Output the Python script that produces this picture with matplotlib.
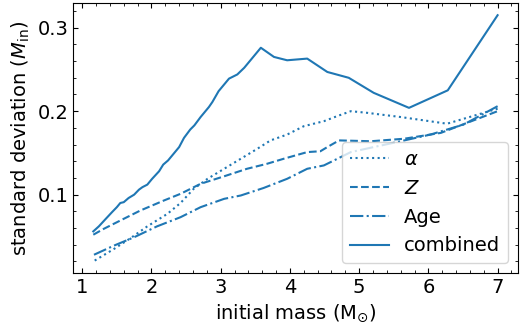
"""Standard deviation of inferred mass vs initial mass."""

import matplotlib
matplotlib.use("Agg")
import matplotlib.pyplot as plt
from matplotlib.ticker import MultipleLocator

# values
alpha_mass = [1.18, 1.26, 1.46, 1.70, 1.94, 2.23, 2.42, 2.61, 2.81, 3.05, 3.29,
              3.53, 3.72, 3.96, 4.20, 4.49, 4.68, 4.88, 5.12, 5.31, 5.60, 6.27, 7.00]
alpha_std = [0.021, 0.025, 0.035, 0.048, 0.062, 0.077, 0.090, 0.107, 0.119, 0.131, 0.143,
             0.155, 0.165, 0.172, 0.182, 0.188, 0.194, 0.200, 0.198, 0.196, 0.193, 0.185, 0.203]

z_mass = [1.16, 1.31, 1.55, 1.84, 2.18, 2.42, 2.71, 3.05, 3.38, 3.67, 3.91,
          4.25, 4.44, 4.54, 4.71, 5.17, 5.65, 6.18, 7.00]
z_std = [0.052, 0.059, 0.069, 0.081, 0.093, 0.101, 0.113, 0.122, 0.131, 0.137, 0.143,
         0.151, 0.152, 0.157, 0.165, 0.164, 0.167, 0.174, 0.200]

age_mass = [1.17, 1.46, 1.75, 2.08, 2.42, 2.71, 3.05, 3.29, 3.62, 3.96, 4.25,
            4.49, 4.71, 4.88, 5.21, 5.60, 6.03, 6.51, 7.00]
age_std = [0.028, 0.039, 0.049, 0.062, 0.073, 0.085, 0.095, 0.099, 0.108, 0.119, 0.131,
           0.135, 0.144, 0.151, 0.157, 0.164, 0.172, 0.184, 0.206]

combined_mass = [1.16, 1.24, 1.34, 1.43, 1.50, 1.55, 1.60, 1.67, 1.75, 1.82, 1.87,
                 1.94, 2.01, 2.11, 2.17, 2.24, 2.30, 2.40, 2.47, 2.56, 2.62, 2.71,
                 2.83, 2.88, 2.97, 3.05, 3.12, 3.24, 3.34, 3.58, 3.77, 3.96, 4.25,
                 4.54, 4.85, 5.21, 5.72, 6.28, 7.00]
combined_std = [0.056, 0.062, 0.071, 0.079, 0.085, 0.090, 0.091, 0.096, 0.100, 0.106, 0.109,
                0.112, 0.119, 0.128, 0.136, 0.141, 0.147, 0.157, 0.168, 0.178, 0.183, 0.193,
                0.205, 0.211, 0.224, 0.232, 0.239, 0.244, 0.252, 0.276, 0.265, 0.261, 0.263,
                0.247, 0.240, 0.222, 0.204, 0.225, 0.315]

plt.rcParams["font.size"] = 14
colour = "tab:blue"

fig, ax = plt.subplots(figsize=(5.22, 3.26), dpi=100)
fig.subplots_adjust(left=0.140, right=0.992, top=0.991, bottom=0.163)

ax.plot(alpha_mass, alpha_std, ls=":", color=colour, label=r"$\alpha$")
ax.plot(z_mass, z_std, ls="--", color=colour, label=r"$Z$")
ax.plot(age_mass, age_std, ls="-.", color=colour, label="Age")
ax.plot(combined_mass, combined_std, ls="-", color=colour, label="combined")

ax.set_xlabel(r"initial mass (M$_{\odot}$)")
ax.set_ylabel(r"standard deviation ($M_{\rm in}$)")

ax.xaxis.set_major_locator(MultipleLocator(1))
ax.xaxis.set_minor_locator(MultipleLocator(0.2))
ax.yaxis.set_major_locator(MultipleLocator(0.1))
ax.yaxis.set_minor_locator(MultipleLocator(0.02))
ax.tick_params(which="both", direction="in", top=True, right=True)

ax.legend(loc="lower right")

fig.savefig("out.png", dpi=100)
